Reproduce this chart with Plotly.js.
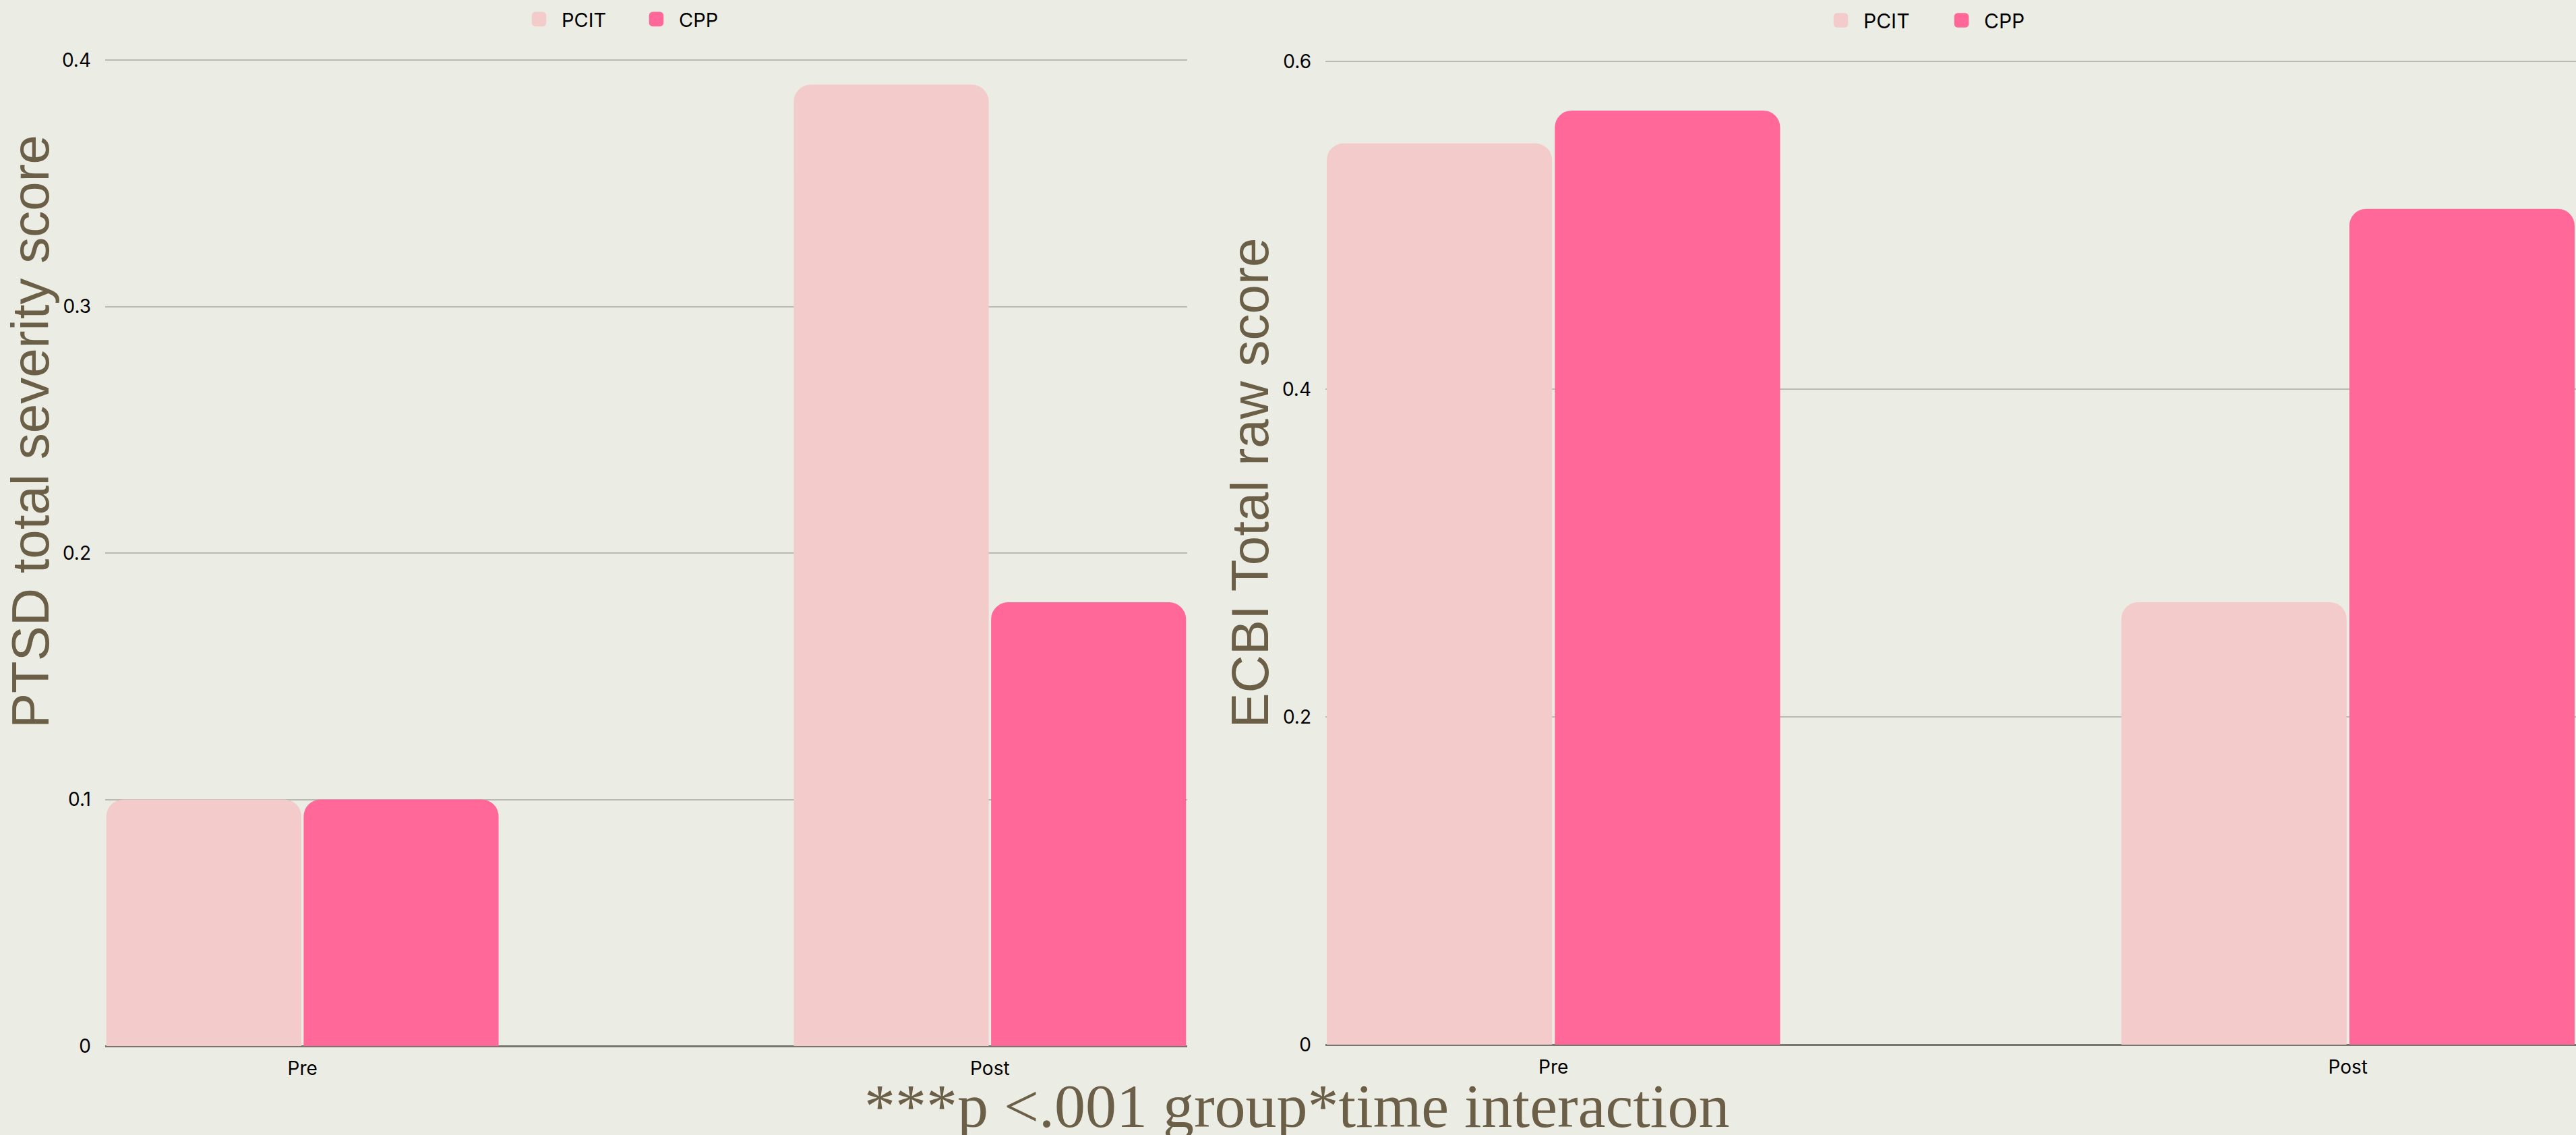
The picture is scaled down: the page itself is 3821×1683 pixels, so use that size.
<!DOCTYPE html>
<html>
<head>
<meta charset="utf-8">
<script src="https://cdn.plot.ly/plotly-3.0.1.min.js"></script>
<style>
  html, body { margin: 0; padding: 0; background: #EBECE4; }
  #chart { width: 3821px; height: 1683px; }
</style>
</head>
<body>
<div id="chart"></div>
<script>
// Time points on the category axis
const timePoints = ['Pre', 'Post'];
// Treatment groups
const groupNames = ['PCIT', 'CPP'];
// PTSD total severity score by group
const ptsdPCIT = [0.10, 0.39];
const ptsdCPP = [0.10, 0.18];
// ECBI total raw score by group
const ecbiPCIT = [0.55, 0.27];
const ecbiCPP = [0.57, 0.51];
// Axis titles and footnote
const leftTitle = 'PTSD total severity score';
const rightTitle = 'ECBI Total raw score';
const footnote = '***p <.001 group*time interaction';

const W = 3821, H = 1683;
const px = v => v / W;          // horizontal pixel -> paper fraction
const py = v => 1 - v / H;      // vertical pixel -> paper fraction

const colPCIT = '#F3CBCB';
const colCPP = '#FF6899';
const bg = '#EBECE4';
const brown = '#6B5F48';
const sans = 'Liberation Sans, Arial, sans-serif';
const uiSans = 'Inter, Liberation Sans, Arial, sans-serif';
const serif = 'Liberation Serif, Times New Roman, serif';

function barTrace(name, y, color, xa, ya, leg) {
  return {
    type: 'bar', name: name, x: timePoints, y: y,
    xaxis: xa, yaxis: ya, legend: leg,
    marker: { color: color, line: { width: 0 } },
    hoverinfo: 'x+y+name'
  };
}

const data = [
  barTrace(groupNames[0], ptsdPCIT, colPCIT, 'x', 'y', 'legend'),
  barTrace(groupNames[1], ptsdCPP, colCPP, 'x', 'y', 'legend'),
  barTrace(groupNames[0], ecbiPCIT, colPCIT, 'x2', 'y2', 'legend2'),
  barTrace(groupNames[1], ecbiCPP, colCPP, 'x2', 'y2', 'legend2')
];

const tickFont = { family: uiSans, size: 28, color: '#000000' };

function xAxis(domain, anchor) {
  return {
    domain: domain, anchor: anchor, type: 'category',
    range: [-0.287, 1.287], showgrid: false, zeroline: false,
    showline: false, ticks: '', tickfont: tickFont,
    ticklabelstandoff: 14, fixedrange: true
  };
}
function yAxis(domain, anchor, range, dtick) {
  return {
    domain: domain, anchor: anchor, range: range, dtick: dtick,
    showgrid: true, gridcolor: '#B9BAB2', gridwidth: 2,
    zeroline: true, zerolinecolor: '#77776F', zerolinewidth: 3,
    showline: false, ticks: '', tickfont: tickFont,
    ticklabelstandoff: 20, fixedrange: true
  };
}

function legendBox(xLeft, yTop, entry, size) {
  return {
    orientation: 'h', x: px(xLeft), xanchor: 'left', y: py(yTop), yanchor: 'top',
    bgcolor: 'rgba(0,0,0,0)', borderwidth: 0,
    font: { family: uiSans, size: size, color: '#000' },
    traceorder: 'normal', itemwidth: 57,
    entrywidth: entry, entrywidthmode: 'pixels'
  };
}

const layout = {
  width: W, height: H,
  paper_bgcolor: bg, plot_bgcolor: bg,
  margin: { l: 0, r: 0, t: 0, b: 0, pad: 0 },
  barmode: 'group', bargap: 0.426, bargroupgap: 0.012,
  barcornerradius: 25,
  font: { family: sans, color: '#000000' },
  xaxis: xAxis([px(156), px(1761)], 'y'),
  yaxis: yAxis([py(1551), py(52.5)], 'x', [0, 0.41], 0.1),
  xaxis2: xAxis([px(1966), 1], 'y2'),
  yaxis2: yAxis([py(1549), py(42.4)], 'x2', [0, 0.62], 0.2),
  legend: legendBox(766, 3, 102, 29),
  legend2: legendBox(2697, 4, 107, 30),
  annotations: [
    {
      text: leftTitle, xref: 'paper', yref: 'paper',
      x: px(45), y: py(1082), xanchor: 'center', yanchor: 'bottom',
      textangle: -90, showarrow: false,
      font: { family: sans, size: 78, color: brown }
    },
    {
      text: rightTitle, xref: 'paper', yref: 'paper',
      x: px(1853), y: py(1082), xanchor: 'center', yanchor: 'bottom',
      textangle: -90, showarrow: false,
      font: { family: sans, size: 78, color: brown }
    },
    {
      text: footnote, xref: 'paper', yref: 'paper',
      x: px(1924), y: 0, xanchor: 'center', yanchor: 'bottom', yshift: -10,
      showarrow: false,
      font: { family: serif, size: 92, color: brown }
    }
  ]
};

Plotly.newPlot('chart', data, layout, { displayModeBar: false, staticPlot: true })
  .then(gd => {
    // enlarge the legend swatches (keep their own offset, scale about the centre)
    gd.querySelectorAll('.legendpoints path').forEach(p => {
      const t = p.getAttribute('transform') || '';
      p.setAttribute('transform', t + ' scale(1.8)');
    });
  });
</script>
</body>
</html>
